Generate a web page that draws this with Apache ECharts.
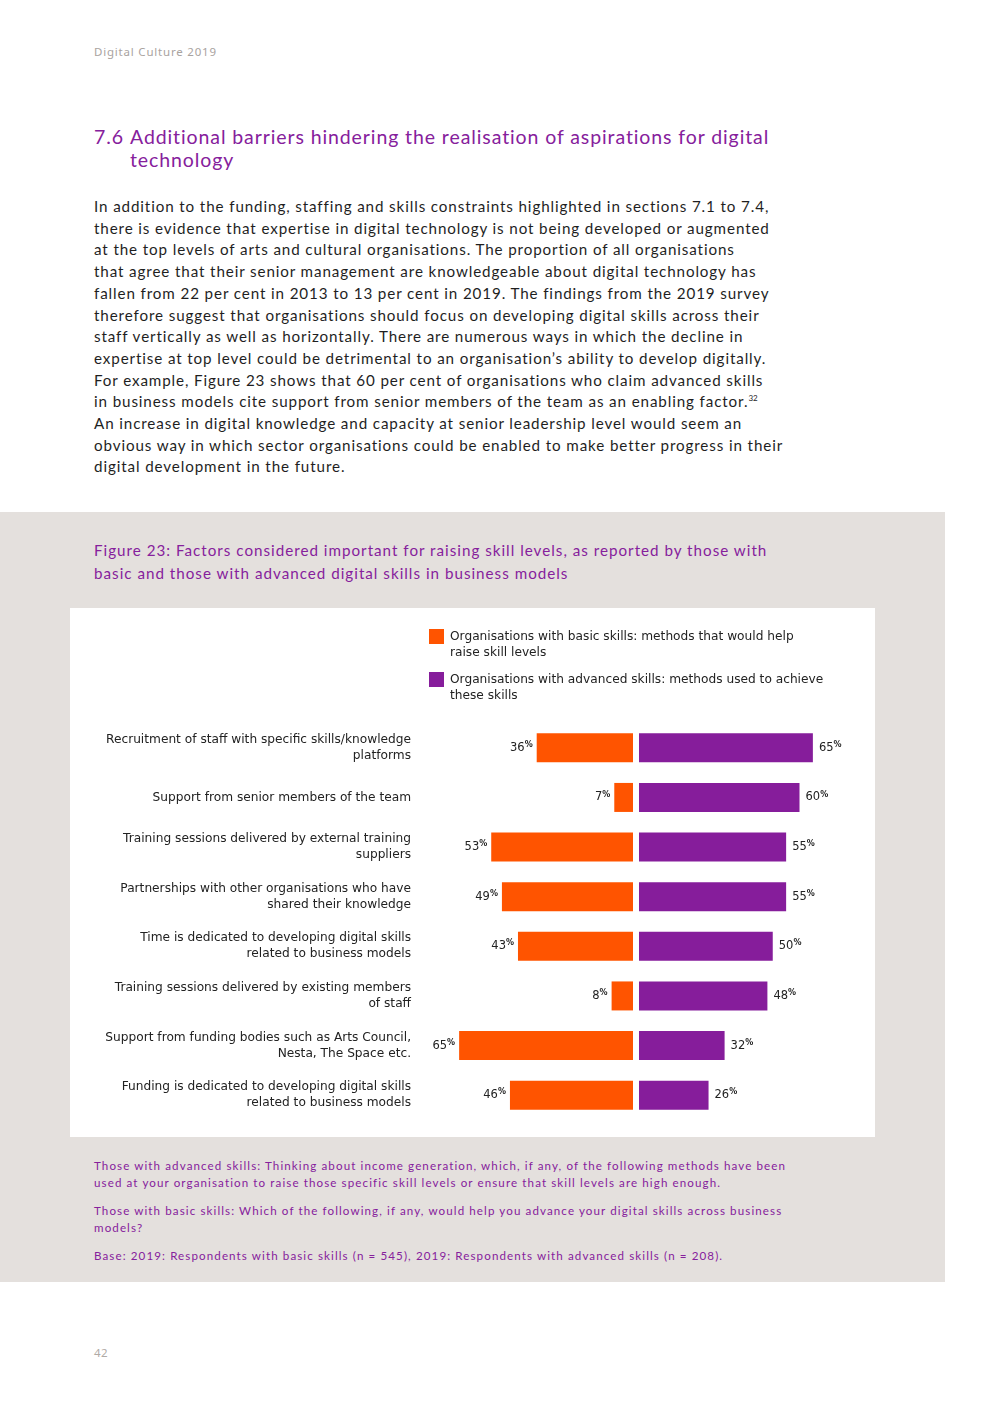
<!DOCTYPE html>
<html>
<head>
<meta charset="utf-8">
<script src="https://cdn.jsdelivr.net/npm/echarts@6/dist/echarts.min.js"></script>
<style>
  html, body { margin: 0; padding: 0; background: #ffffff; }
  body { width: 992px; height: 1403px; position: relative; overflow: hidden; font-family: "Noto Sans", sans-serif; }
  .abs { position: absolute; white-space: nowrap; }
  #header { left: 94px; top: 44px; font-size: 11.5px; color: #a9a39f; letter-spacing: 0.8px; }
  #title { left: 94px; top: 125px; font-size: 19.5px; color: #86209c; line-height: 23px; font-family: "Lato", sans-serif; letter-spacing: 0.9px; }
  #title .num { position: absolute; left: 0; top: 0; }
  #title .txt { position: absolute; left: 36px; top: 0; }
  #body { left: 94px; top: 196px; font-size: 15.2px; color: #1f1f1f; line-height: 21.7px; font-family: "Lato", sans-serif; letter-spacing: 0.88px; }
  #body .sup { font-size: 8px; line-height: 0; vertical-align: baseline; position: relative; top: -6px; letter-spacing: 0; }
  #panel { left: 0; top: 512px; width: 945px; height: 770px; background: #e4e0dd; }
  #caption { left: 94px; top: 539px; font-size: 15.2px; color: #86209c; line-height: 23px; font-family: "Lato", sans-serif; letter-spacing: 1.0px; }
  #chart { left: 70px; top: 608px; width: 805px; height: 529px; background: #ffffff; }
  .note { left: 94px; font-size: 11.6px; color: #86209c; line-height: 17px; font-family: "Lato", sans-serif; letter-spacing: 1.1px; }
  #pagenum { left: 94px; top: 1345px; font-size: 11.5px; color: #b0aaa6; letter-spacing: 0.5px; }
</style>
</head>
<body>
<div id="header" class="abs">Digital Culture 2019</div>
<div id="title" class="abs"><span class="num">7.6</span><span class="txt">Additional barriers hindering the realisation of aspirations for digital<br>technology</span></div>
<div id="body" class="abs">In addition to the funding, staffing and skills constraints highlighted in sections 7.1 to 7.4,<br>there is evidence that expertise in digital technology is not being developed or augmented<br>at the top levels of arts and cultural organisations. The proportion of all organisations<br>that agree that their senior management are knowledgeable about digital technology has<br>fallen from 22 per cent in 2013 to 13 per cent in 2019. The findings from the 2019 survey<br>therefore suggest that organisations should focus on developing digital skills across their<br>staff vertically as well as horizontally. There are numerous ways in which the decline in<br>expertise at top level could be detrimental to an organisation’s ability to develop digitally.<br>For example, Figure 23 shows that 60 per cent of organisations who claim advanced skills<br>in business models cite support from senior members of the team as an enabling factor.<span class="sup">32</span><br>An increase in digital knowledge and capacity at senior leadership level would seem an<br>obvious way in which sector organisations could be enabled to make better progress in their<br>digital development in the future.</div>
<div id="panel" class="abs"></div>
<div id="caption" class="abs">Figure 23: Factors considered important for raising skill levels, as reported by those with<br>basic and those with advanced digital skills in business models</div>
<div id="chart" class="abs"></div>
<div class="abs note" style="top:1157px;">Those with advanced skills: Thinking about income generation, which, if any, of the following methods have been<br>used at your organisation to raise those specific skill levels or ensure that skill levels are high enough.</div>
<div class="abs note" style="top:1202px;">Those with basic skills: Which of the following, if any, would help you advance your digital skills across business<br>models?</div>
<div class="abs note" style="top:1247px;">Base: 2019: Respondents with basic skills (n = 545), 2019: Respondents with advanced skills (n = 208).</div>
<div id="pagenum" class="abs">42</div>

<script>
const categories = [
  'Recruitment of staff with specific skills/knowledge\nplatforms',
  'Support from senior members of the team',
  'Training sessions delivered by external training\nsuppliers',
  'Partnerships with other organisations who have\nshared their knowledge',
  'Time is dedicated to developing digital skills\nrelated to business models',
  'Training sessions delivered by existing members\nof staff',
  'Support from funding bodies such as Arts Council,\nNesta, The Space etc.',
  'Funding is dedicated to developing digital skills\nrelated to business models'
];
const basicValues = [36, 7, 53, 49, 43, 8, 65, 46];
const advancedValues = [65, 60, 55, 55, 50, 48, 32, 26];
const seriesNames = [
  'Organisations with basic skills: methods that would help\nraise skill levels',
  'Organisations with advanced skills: methods used to achieve\nthese skills'
];

const ORANGE = '#ff5400';
const PURPLE = '#861d9b';
const FONT = '"DejaVu Sans", sans-serif';

const chart = echarts.init(document.getElementById('chart'), null, { renderer: 'canvas' });

const valueLabel = {
  show: true,
  formatter: '{n|{c}}{p|%}',
  rich: {
    n: { fontSize: 11.5, color: '#222', fontFamily: FONT },
    p: { fontSize: 8, color: '#222', fontFamily: FONT, fontWeight: 'bold', verticalAlign: 'top', padding: [0, 0, 6, 0] }
  }
};

function legendFor(idx, top) {
  return {
    data: [seriesNames[idx]],
    left: 359,
    top: top,
    padding: 0,
    orient: 'vertical',
    itemWidth: 15,
    itemHeight: 15,
    itemGap: 0,
    icon: 'rect',
    selectedMode: false,
    formatter: function (name) { return ' \n' + name; },
    textStyle: {
      fontSize: 12.2, color: '#222', fontFamily: FONT,
      lineHeight: 16, padding: [0, 0, 0, 1]
    }
  };
}

chart.setOption({
  animation: false,
  legend: [legendFor(0, 4.5), legendFor(1, 47.5)],
  grid: [
    { left: 349, top: 115, width: 214, height: 397, containLabel: false },
    { left: 569, top: 115, width: 214, height: 397, containLabel: false }
  ],
  xAxis: [
    { type: 'value', gridIndex: 0, min: 0, max: 80, inverse: true, show: false },
    { type: 'value', gridIndex: 1, min: 0, max: 80, show: false }
  ],
  yAxis: [
    {
      type: 'category', gridIndex: 0, data: categories, inverse: true,
      axisLine: { show: false }, axisTick: { show: false },
      axisLabel: {
        margin: 8, fontSize: 12.2, color: '#222', fontFamily: FONT,
        lineHeight: 16, align: 'right'
      }
    },
    {
      type: 'category', gridIndex: 1, data: categories, inverse: true,
      axisLine: { show: false }, axisTick: { show: false }, axisLabel: { show: false }
    }
  ],
  series: [
    {
      name: seriesNames[0], type: 'bar', xAxisIndex: 0, yAxisIndex: 0,
      data: basicValues, barWidth: 29, itemStyle: { color: ORANGE },
      label: Object.assign({ position: 'left', distance: 4 }, valueLabel)
    },
    {
      name: seriesNames[1], type: 'bar', xAxisIndex: 1, yAxisIndex: 1,
      data: advancedValues, barWidth: 29, itemStyle: { color: PURPLE },
      label: Object.assign({ position: 'right', distance: 6 }, valueLabel)
    }
  ]
});
</script>
</body>
</html>
